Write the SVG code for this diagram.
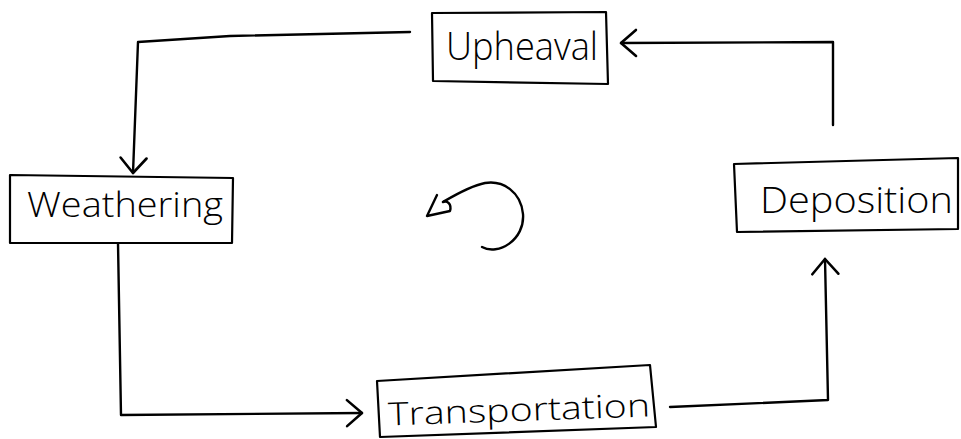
<svg xmlns="http://www.w3.org/2000/svg" width="961" height="439" viewBox="0 0 961 439">
<style>
.box{fill:#ffffff;stroke:#000;stroke-width:2.2;stroke-linejoin:round}
.lbl{font-family:"Open Sans","DejaVu Sans",sans-serif;font-weight:300;fill:#000}
.con{fill:none;stroke:#000;stroke-width:2.4;stroke-linecap:round;stroke-linejoin:round}
</style>
<defs>
<marker id="arr" viewBox="-17 -16 20 32" markerWidth="20" markerHeight="32" refX="0" refY="0" markerUnits="userSpaceOnUse" orient="auto">
<path d="M-15,-13 L0,0 L-15,13" fill="none" stroke="#000" stroke-width="2.6" stroke-linecap="round" stroke-linejoin="round"/>
</marker>
</defs>
<rect width="961" height="439" fill="#ffffff"/>
<g id="connectors">
<path class="con" d="M410,32 L230,36 L138,42 L133,173" marker-end="url(#arr)"/>
<path class="con" d="M118,243 L121,415 L362,413" marker-end="url(#arr)"/>
<path class="con" d="M670,407 L828,400 L825,259" marker-end="url(#arr)"/>
<path class="con" d="M833,125 L833,42 L621,43" marker-end="url(#arr)"/>
<path class="con" d="M482,247 C498,256 525,240 523,214 C521,192 503,180 485,183 C470,186 455,195 443,202"/>
<path class="con" d="M437,195 L427,216 L450,211 C452,204 447,200 443,202"/>
</g>
<g id="upheaval">
<path class="box" d="M432,13 L606,12 L608,84 L433,81 Z"/>
<text class="lbl" x="446" y="60" font-size="38" textLength="152" lengthAdjust="spacingAndGlyphs">Upheaval</text>
</g>
<g id="weathering">
<path class="box" d="M10,175 L233,178 L232,243 L10,243 Z"/>
<text class="lbl" x="27" y="217" font-size="34" textLength="196" lengthAdjust="spacingAndGlyphs">Weathering</text>
</g>
<g id="deposition">
<path class="box" d="M734,164 L958,158 L958,229 L737,232 Z"/>
<text class="lbl" x="760" y="213" font-size="36" textLength="193" lengthAdjust="spacingAndGlyphs">Deposition</text>
</g>
<g id="transportation">
<path class="box" d="M377,381 L650,365 L656,427 L380,437 Z"/>
<text class="lbl" x="388" y="421" font-size="32" textLength="262" lengthAdjust="spacingAndGlyphs" transform="rotate(-2 519 410)">Transportation</text>
</g>
</svg>
